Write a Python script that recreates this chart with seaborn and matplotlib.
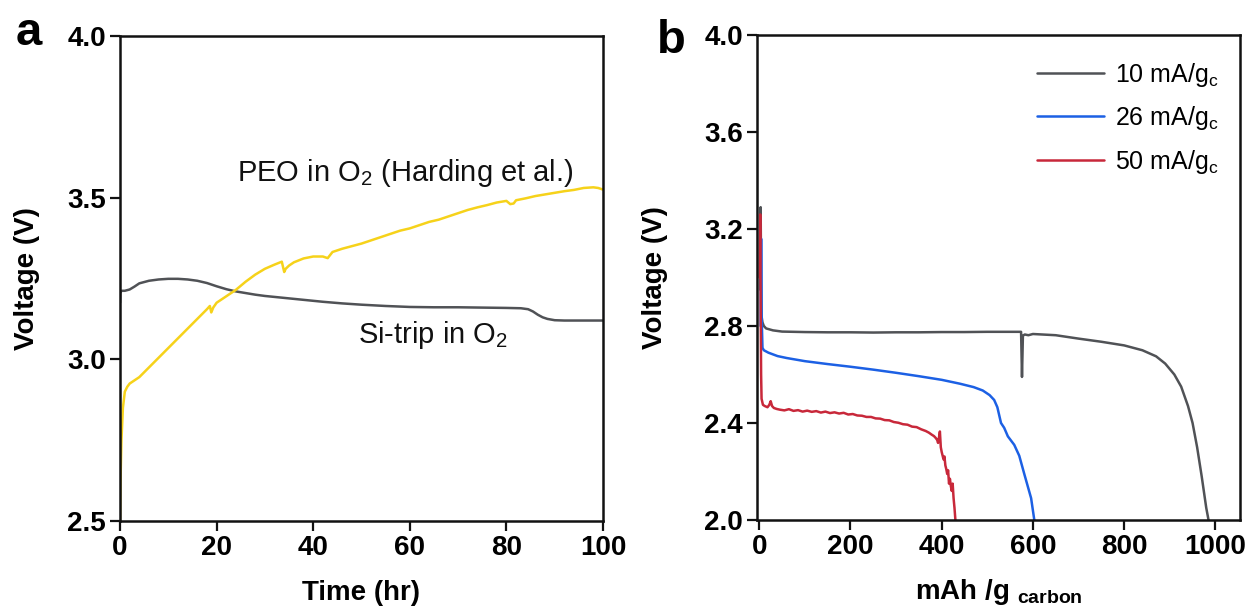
import matplotlib
matplotlib.use("Agg")
import matplotlib.pyplot as plt
import numpy as np
import pandas as pd
import seaborn as sns

# ---------------- data: panel a ----------------
t_si = [0, 0.05, 0.3, 1, 2, 3, 4, 6, 8, 10, 12, 14, 16, 18, 20, 22, 24, 26, 28, 30,
        34, 38, 42, 46, 50, 55, 60, 65, 70, 75, 80, 83, 84.5, 85.5, 86.5, 87.5, 88.5,
        90, 92, 95, 100]
v_si = [3.175, 3.205, 3.212, 3.212, 3.216, 3.225, 3.235, 3.243, 3.247, 3.249, 3.249,
        3.247, 3.243, 3.236, 3.226, 3.217, 3.210, 3.205, 3.200, 3.196, 3.190, 3.184,
        3.178, 3.173, 3.169, 3.165, 3.162, 3.161, 3.161, 3.160, 3.159, 3.158, 3.155,
        3.148, 3.138, 3.130, 3.125, 3.121, 3.120, 3.120, 3.120]

t_peo = [0, 0.1, 0.3, 0.6, 1.0, 1.5, 2, 4, 6, 8, 10, 12, 14, 16, 18, 18.6, 18.9, 19.3,
         20, 22, 24, 26, 28, 30, 32, 33.5, 34.0, 34.3, 35, 36, 38, 40, 42, 43, 44, 46,
         48, 50, 52, 54, 56, 58, 60, 62, 64, 66, 68, 70, 72, 74, 76, 78, 80, 80.8, 81.5,
         82, 84, 86, 88, 90, 92, 94, 96, 98, 99, 100]
v_peo = [2.50, 2.62, 2.75, 2.85, 2.90, 2.915, 2.925, 2.945, 2.975, 3.005, 3.035, 3.065,
         3.095, 3.125, 3.155, 3.165, 3.145, 3.160, 3.175, 3.195, 3.215, 3.240, 3.262,
         3.280, 3.293, 3.302, 3.270, 3.280, 3.290, 3.300, 3.312, 3.318, 3.318, 3.313,
         3.332, 3.342, 3.350, 3.358, 3.368, 3.378, 3.388, 3.398, 3.405, 3.415, 3.425,
         3.432, 3.442, 3.452, 3.462, 3.470, 3.477, 3.485, 3.490, 3.480, 3.482, 3.492,
         3.498, 3.505, 3.510, 3.515, 3.520, 3.524, 3.530, 3.532, 3.530, 3.525]

# ---------------- data: panel b ----------------
cap10 = [2, 3, 4, 5, 7, 10, 15, 30, 50, 100, 150, 200, 250, 300, 350, 400, 450, 500,
         550, 574, 576, 578, 582, 590, 600, 650, 700, 750, 800, 840, 870, 890, 910,
         925, 940, 950, 960, 970, 980, 985]
v10 = [2.95, 3.29, 3.00, 2.84, 2.815, 2.80, 2.79, 2.782, 2.777, 2.775, 2.774, 2.774,
       2.773, 2.774, 2.774, 2.775, 2.775, 2.776, 2.776, 2.776, 2.59, 2.76, 2.765,
       2.762, 2.767, 2.762, 2.748, 2.735, 2.720, 2.700, 2.675, 2.645, 2.600, 2.550,
       2.470, 2.400, 2.300, 2.180, 2.050, 2.000]

cap26 = [3, 4, 5, 7, 10, 20, 40, 60, 100, 150, 200, 250, 300, 350, 400, 440, 470, 490,
         505, 515, 522, 530, 537, 545, 559, 570, 581, 590, 596, 603]
v26 = [2.80, 3.16, 2.85, 2.71, 2.70, 2.69, 2.676, 2.668, 2.655, 2.643, 2.632, 2.620,
       2.607, 2.593, 2.578, 2.562, 2.548, 2.534, 2.515, 2.495, 2.465, 2.400, 2.380,
       2.345, 2.310, 2.265, 2.190, 2.130, 2.090, 2.000]

cap50 = [1, 2, 3, 4, 5, 8, 12, 18, 22, 25, 28, 32, 38,
         45, 55, 65, 75, 85, 95, 105, 115, 125, 135, 145, 155, 165, 175, 185, 195,
         205, 215, 225, 235, 245, 255, 265, 275, 285, 295, 305, 315, 325, 335, 345,
         355, 365, 372, 378, 383, 387, 390,
         392, 394, 396, 398, 400, 402, 404, 406, 408, 410, 412, 414, 416, 418, 420,
         422, 424, 426, 428, 430]
v50 = [3.00, 3.26, 2.90, 2.60, 2.50, 2.475, 2.470, 2.465, 2.475, 2.490, 2.470, 2.462,
       2.458,
       2.455, 2.452, 2.457, 2.450, 2.453, 2.447, 2.451, 2.446, 2.449, 2.443, 2.447,
       2.441, 2.444, 2.439, 2.442, 2.435, 2.437, 2.431, 2.430, 2.425, 2.425, 2.419,
       2.418, 2.412, 2.411, 2.404, 2.401, 2.395, 2.393, 2.385, 2.383, 2.374, 2.367,
       2.360, 2.352, 2.346, 2.338, 2.330,
       2.318, 2.340, 2.365, 2.300, 2.280, 2.265, 2.250, 2.262, 2.225, 2.210, 2.190,
       2.205, 2.150, 2.170, 2.140, 2.120, 2.150, 2.090, 2.050, 2.000]

labels_b = ["10 mA/g$_\\mathregular{c}$", "26 mA/g$_\\mathregular{c}$", "50 mA/g$_\\mathregular{c}$"]
xticks_a = [0, 20, 40, 60, 80, 100]
yticks_a = [2.5, 3.0, 3.5, 4.0]
xticks_b = [0, 200, 400, 600, 800, 1000]
yticks_b = [2.0, 2.4, 2.8, 3.2, 3.6, 4.0]

# ---------------- style ----------------
sns.set_style("ticks")
plt.rcParams["font.family"] = ["Liberation Sans", "DejaVu Sans"]
plt.rcParams["mathtext.fontset"] = "custom"
plt.rcParams["mathtext.rm"] = "Liberation Sans"
plt.rcParams["mathtext.bf"] = "Liberation Sans:bold"
plt.rcParams["mathtext.it"] = "Liberation Sans:italic"
plt.rcParams["mathtext.default"] = "regular"
for k in ("text.color", "axes.labelcolor", "xtick.color", "ytick.color", "axes.edgecolor"):
    plt.rcParams[k] = "black"

C_GRAY = "#505256"
C_YEL = "#f6d21a"
C_BLUE = "#1c60e4"
C_RED = "#c8283a"
LW = 1.8

W, H = 1254, 615
fig = plt.figure(figsize=(W / 100, H / 100), dpi=100)
axA = fig.add_axes([120 / W, 1 - 521 / H, (603 - 120) / W, (521 - 36) / H])
axB = fig.add_axes([757 / W, 1 - 520 / H, (1240 - 757) / W, (520 - 35) / H])

# panel a
df_si = pd.DataFrame({"t": t_si, "v": v_si})
df_peo = pd.DataFrame({"t": t_peo, "v": v_peo})
sns.lineplot(data=df_si, x="t", y="v", ax=axA, color=C_GRAY, lw=LW,
             estimator=None, sort=False)
sns.lineplot(data=df_peo, x="t", y="v", ax=axA, color=C_YEL, lw=LW,
             estimator=None, sort=False)
axA.set_xlim(0, 100)
axA.set_ylim(2.5, 4.0)
axA.set_xticks(xticks_a)
axA.set_yticks(yticks_a)
axA.set_yticklabels([f"{v:.1f}" for v in yticks_a])
axA.set_xlabel("Time (hr)", fontsize=20, fontweight="bold", labelpad=14)
axA.set_ylabel("Voltage (V)", fontsize=20, fontweight="bold", labelpad=20)
axA.text(24.2, 3.553, "PEO in O$_2$ (Harding et al.)", fontsize=21,
         va="baseline", ha="left", color="#111111")
axA.text(49.3, 3.050, "Si-trip in O$_2$", fontsize=21,
         va="baseline", ha="left", color="#111111")

# panel b
series_b = [(cap10, v10, C_GRAY), (cap26, v26, C_BLUE), (cap50, v50, C_RED)]
for (cx, vy, col), lab in zip(series_b, labels_b):
    d = pd.DataFrame({"cap": cx, "v": vy})
    sns.lineplot(data=d, x="cap", y="v", ax=axB, color=col, lw=LW,
                 estimator=None, sort=False, label=lab)
axB.set_xlim(-5, 1054)
axB.set_ylim(2.0, 4.0)
axB.set_xticks(xticks_b)
axB.set_yticks(yticks_b)
axB.set_yticklabels([f"{v:.1f}" for v in yticks_b])
axB.set_xlabel(r"mAh /g $_{\mathbf{carbon}}$", fontsize=20, fontweight="bold", labelpad=12)
axB.set_ylabel("Voltage (V)", fontsize=20, fontweight="bold", labelpad=26)
leg = axB.legend(loc="upper left", bbox_to_anchor=(0.558, 0.968), frameon=False,
                 fontsize=18, handlelength=2.7, handletextpad=0.45, labelspacing=0.62,
                 borderaxespad=0)

for ax in (axA, axB):
    for sp in ax.spines.values():
        sp.set_linewidth(1.8)
        sp.set_color("#111111")
    ax.tick_params(axis="both", direction="out", length=7, width=1.6, color="#111111",
                   labelsize=20, pad=3, top=False, right=False)
    for lbl in ax.get_xticklabels() + ax.get_yticklabels():
        lbl.set_fontweight("bold")

fig.text(16 / W, 1 - 45 / H, "a", fontsize=34, fontweight="bold", ha="left", va="baseline")
fig.text(657 / W, 1 - 53 / H, "b", fontsize=34, fontweight="bold", ha="left", va="baseline")

fig.savefig("out.png", dpi=100)
